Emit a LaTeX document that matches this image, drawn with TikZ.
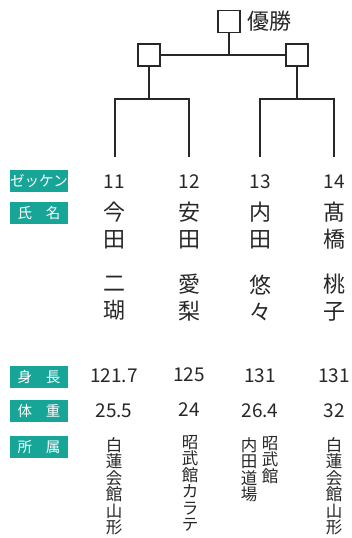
\documentclass[tikz,border=0pt]{standalone}
\usepackage{fontspec}
\setmainfont{Noto Sans CJK JP}
\definecolor{teal1}{RGB}{23,165,151}
\definecolor{ink}{RGB}{40,38,40}
\begin{document}
\begin{tikzpicture}[x=1pt,y=-1pt,
  wbox/.style={draw=ink,line width=1.9pt,fill=white,minimum size=22pt,inner sep=0pt},
  bline/.style={draw=ink,line width=1.8pt},
  lab/.style={fill=teal1,text=white,minimum width=58pt,minimum height=22pt,inner sep=0pt,font=\fontsize{14.5}{14.5}\selectfont},
  num/.style={text=ink,inner sep=0pt,font=\fontsize{19}{19}\selectfont},
  nm/.style={text=ink,inner sep=0pt,align=center,font=\fontsize{22}{27}\selectfont},
  aff/.style={text=ink,inner sep=0pt,align=center,anchor=north,font=\fontsize{16.5}{16.5}\selectfont}]
\useasboundingbox (0,0) rectangle (351,538);
% bracket
\node[wbox] (win) at (229,21.5) {};
\node[text=ink,inner sep=0pt,anchor=west,font=\fontsize{22}{22}\selectfont] (wl) at (247,21) {優勝};
\node[wbox] (sl) at (149,55) {};
\node[wbox] (sr) at (297,55) {};
\coordinate (jl) at (149,99);
\coordinate (jr) at (297,99);
\coordinate (a1) at (115,99); \coordinate (a2) at (189,99);
\coordinate (a3) at (260,99); \coordinate (a4) at (334,99);
\coordinate (b1) at (115,157); \coordinate (b2) at (189,157);
\coordinate (b3) at (260,157); \coordinate (b4) at (334,157);
\draw[bline] (sl.east) -- (sr.west);
\draw[bline] (win.south) -- (win.south |- sl.east);
\draw[bline] (sl.south) -- (jl);
\draw[bline] (sr.south) -- (jr);
\draw[bline] (b1) -- (a1) -- (a2) -- (b2);
\draw[bline] (b3) -- (a3) -- (a4) -- (b4);
% labels
\node[lab] (l1) at (39,181) {ゼッケン};
\node[lab] (l2) at (39,212.5) {氏\hspace{14pt}名};
\node[lab] (l3) at (39,376.5) {身\hspace{14pt}長};
\node[lab] (l4) at (39,411) {体\hspace{14pt}重};
\node[lab] (l5) at (39,447) {所\hspace{14pt}属};
% numbers
\node[num] (n1) at (114,182) {11};
\node[num] (n2) at (189,182) {12};
\node[num] (n3) at (260,182) {13};
\node[num] (n4) at (334,182) {14};
% names
\node[nm] (f1) at (114,225.5) {今\\田};
\node[nm] (f2) at (189,225.5) {安\\田};
\node[nm] (f3) at (260,225.5) {内\\田};
\node[nm] (f4) at (334,225.5) {髙\\橋};
\node[nm] (g1) at (114,298) {二\\瑚};
\node[nm] (g2) at (189,298) {愛\\梨};
\node[nm] (g3) at (260,298) {悠\\々};
\node[nm] (g4) at (334,298) {桃\\子};
% height
\node[num] (h1) at (114,376) {121.7};
\node[num] (h2) at (189,375) {125};
\node[num] (h3) at (260,376) {131};
\node[num] (h4) at (334,376) {131};
% weight
\node[num] (w1) at (114,410.5) {25.5};
\node[num] (w2) at (189,410) {24};
\node[num] (w3) at (260,410.5) {26.4};
\node[num] (w4) at (334,410.5) {32};
% affiliation
\node[aff] (c1) at (114,437) {白\\蓮\\会\\館\\山\\形};
\node[aff] (c2) at (190,435) {昭\\武\\館\\カ\\ラ\\テ};
\node[aff] (c3b) at (270,436) {昭\\武\\館};
\node[aff] (c3a) at (249,437) {内\\田\\道\\場};
\node[aff] (c4) at (334,437) {白\\蓮\\会\\館\\山\\形};
\end{tikzpicture}
\end{document}
